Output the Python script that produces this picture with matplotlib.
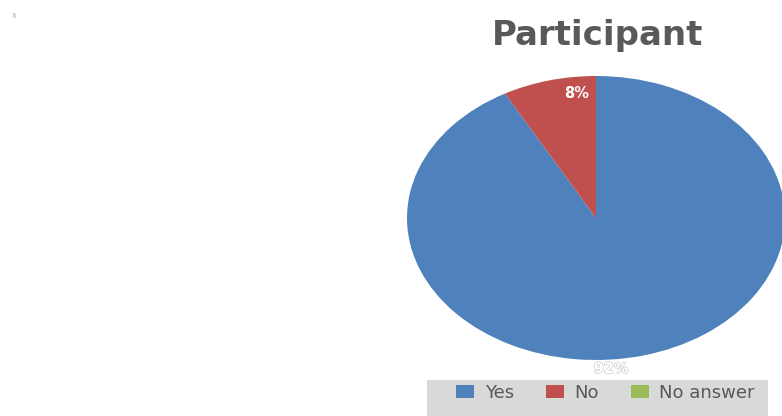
import matplotlib
matplotlib.use("Agg")
from matplotlib import pyplot as plt
import matplotlib.patheffects as pe
from matplotlib.patches import Rectangle

categories = ["Yes", "No", "No answer"]
shares = [92, 8, 0]
share_labels = ["92%", "8%", ""]
colors = ["#4f81bd", "#c0504d", "#9bbb59"]

plt.rcParams["font.family"] = ["DejaVu Sans"]

fig = plt.figure(figsize=(7.82, 4.16), dpi=100)
fig.patch.set_facecolor("white")

# pie is stretched horizontally, so the axes gets aspect auto
ax = fig.add_axes([407 / 782, 1 - 360 / 416, 378 / 782, 284 / 416])
wedges, _ = ax.pie(shares, colors=colors, startangle=90, counterclock=False,
                   radius=1, wedgeprops=dict(linewidth=0))
ax.set_aspect("auto")
ax.set_xlim(-1, 1)
ax.set_ylim(-1, 1)
ax.axis("off")

# data labels
ax.text(-0.1, 0.88, share_labels[1], color="white", fontsize=10.5,
        fontweight="bold", ha="center", va="center")
ax.text(0.08, -1.06, share_labels[0], color="white", fontsize=10.5,
        fontweight="bold", ha="center", va="center", clip_on=False,
        path_effects=[pe.withStroke(linewidth=1.0, foreground="#cfcfcf")])

fig.text(598 / 782, 1 - 36 / 416, "Participant", fontsize=24.5, fontweight="bold",
         color="#595959", ha="center", va="center")

# tiny mark in the corner
fig.text(14 / 782, 1 - 15 / 416, "x", fontsize=6, color="#b0b0b0",
         ha="center", va="center")

# grey legend background, runs off the bottom edge
fig.patches.append(Rectangle((427 / 782, 0), (768 - 427) / 782, (416 - 380) / 416,
                             transform=fig.transFigure, facecolor="#d9d9d9",
                             edgecolor="none", zorder=0))

leg = fig.legend(wedges, categories, loc="center left",
                 bbox_to_anchor=(456 / 782, 1 - 393 / 416), ncol=3,
                 frameon=False, fontsize=13,
                 handlelength=1.0, handleheight=0.7, handletextpad=0.6,
                 columnspacing=1.75, borderpad=0, borderaxespad=0)
for t in leg.get_texts():
    t.set_color("#595959")

fig.savefig("out.png", dpi=100)
